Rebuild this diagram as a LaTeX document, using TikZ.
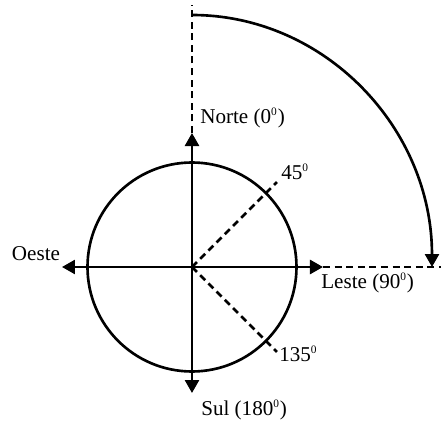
\documentclass[tikz,border=0pt]{standalone}
\usepackage{fontspec}
\setmainfont{Liberation Serif}
\usetikzlibrary{arrows.meta}
\newcommand{\grau}{\textsuperscript{\fontsize{6.5}{7}\selectfont 0}}

\begin{document}
\begin{tikzpicture}[line width=1.5pt,>={Triangle[length=0.26cm,width=0.28cm]},
  dashline/.style={dash pattern=on 4pt off 2.6pt},
  lbl/.style={font=\fontsize{12}{14}\selectfont,inner sep=0pt}]

\useasboundingbox (-3.84,-3.08) rectangle (4.98,5.34);

% Points
\coordinate (O) at (0,0);
\coordinate (N) at (0,2.68);
\coordinate (S) at (0,-2.52);
\coordinate (W) at (-2.6,0);
\coordinate (E) at (2.62,0);
\coordinate (Ntop) at (0,5.24);
\coordinate (Eend) at (4.98,0);
\coordinate (NE) at (1.7,1.7);
\coordinate (SE) at (1.7,-1.7);
\coordinate (Astart) at (0,5.04);

% Circle
\draw (O) circle (2.09);

% Axes
\draw[->] (O) -- (N);
\draw[->] (O) -- (S);
\draw[->] (O) -- (W);
\draw[->] (O) -- (E);

% Dashed extensions and directions
\draw[dashline] (N) -- (Ntop);
\draw[dashline] (E) -- (Eend);
\draw[dashline] (O) -- (NE);
\draw[dashline] (O) -- (SE);

% Rotation arc
\draw[->] (Astart) arc[start angle=90,end angle=0,x radius=4.8,y radius=5.04];

% Labels
\node[lbl,anchor=west] (norte) at (0.14,2.98) {Norte (0\grau)};
\node[lbl,anchor=west] (sul) at (0.16,-2.86) {Sul (180\grau)};
\node[lbl] (oeste) at (-3.12,0.26) {Oeste};
\node[lbl,anchor=west] (leste) at (2.56,-0.32) {Leste (90\grau)};
\node[lbl,anchor=south west] (q45) at (1.76,1.72) {45\grau};
\node[lbl,anchor=west] (q135) at (1.72,-1.74) {135\grau};

\end{tikzpicture}
\end{document}
